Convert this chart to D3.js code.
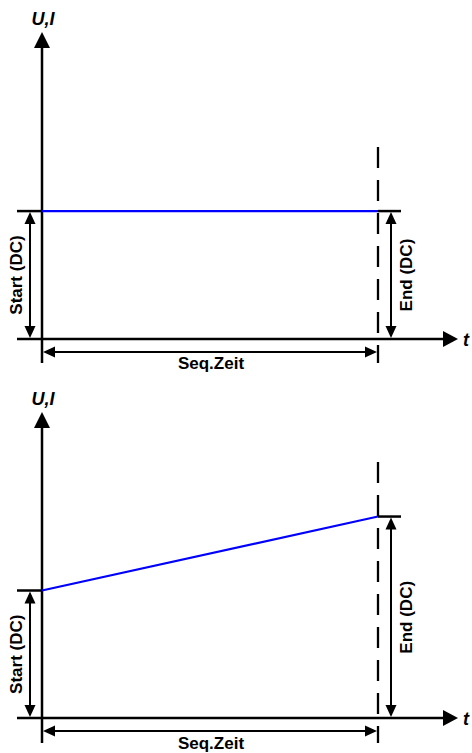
<!DOCTYPE html>
<html><head><meta charset="utf-8">
<script src="https://cdn.jsdelivr.net/npm/d3@7"></script>
<style>html,body{margin:0;padding:0;background:#fff}svg{display:block}text{font-family:"Liberation Sans",Arial,sans-serif}</style>
</head><body>
<script>
// Data
const panels = ["constant", "ramp"];
const startValues = [1.0, 1.0];
const endValues = [1.0, 1.58];
const timeDomain = [0, 1];
const yMax = 2.4;
const labels = {y: "U,I", x: "t", seq: "Seq.Zeit", start: "Start (DC)", end: "End (DC)"};

// Layout
const W = 472, H = 753;
const x0 = 42, x1 = 378;
const layout = [
  {base: 339, tip: 32, axisBottom: 363, dashTop: 147, seqY: 352, seqLabel: 369, yLabel: 25, tLabel: 346},
  {base: 718, tip: 412, axisBottom: 743, dashTop: 462, seqY: 731, seqLabel: 749, yLabel: 405, tLabel: 725}
];

const svg = d3.select("body").append("svg").attr("width", W).attr("height", H);
const x = d3.scaleLinear().domain(timeDomain).range([x0, x1]);

function head(g, tipX, tipY, dir, len, wid) {
  let pts;
  const h = wid / 2;
  if (dir === "up") pts = [[tipX, tipY], [tipX - h, tipY + len], [tipX + h, tipY + len]];
  if (dir === "down") pts = [[tipX, tipY], [tipX - h, tipY - len], [tipX + h, tipY - len]];
  if (dir === "left") pts = [[tipX, tipY], [tipX + len, tipY - h], [tipX + len, tipY + h]];
  if (dir === "right") pts = [[tipX, tipY], [tipX - len, tipY - h], [tipX - len, tipY + h]];
  g.append("path").attr("d", d3.line()(pts) + "Z").attr("fill", "#000");
}

function line(g, xa, ya, xb, yb, w, extra) {
  const l = g.append("line").attr("x1", xa).attr("y1", ya).attr("x2", xb).attr("y2", yb)
    .attr("stroke", "#000").attr("stroke-width", w);
  if (extra) l.attr("stroke-dasharray", extra);
  return l;
}

panels.forEach((p, i) => {
  const L = layout[i];
  const y = d3.scaleLinear().domain([0, yMax]).range([L.base, L.tip]);
  const g = svg.append("g");
  const ys = y(startValues[i]), ye = y(endValues[i]);

  line(g, x(1), L.dashTop, x(1), L.axisBottom, 2.3, "21,12");

  line(g, x(0), L.tip + 10, x(0), L.axisBottom, 2.5);
  head(g, x(0), L.tip, "up", 16, 16);
  g.append("text").attr("x", x(0) + 1).attr("y", L.yLabel).attr("text-anchor", "middle")
    .attr("font-size", 18).attr("font-weight", "bold").attr("font-style", "italic").text(labels.y);

  line(g, 17, L.base, 447, L.base, 2.5);
  head(g, 458, L.base, "right", 15, 16);
  g.append("text").attr("x", 463).attr("y", L.tLabel)
    .attr("font-size", 18).attr("font-weight", "bold").attr("font-style", "italic").text(labels.x);

  line(g, 17, ys, x(0), ys, 2.5);
  line(g, x(1), ye, 401, ye, 2.5);

  const sx = 30;
  line(g, sx, ys + 8, sx, L.base - 8, 2);
  head(g, sx, ys + 1, "up", 12, 11);
  head(g, sx, L.base - 1, "down", 12, 11);
  g.append("text").attr("transform", `translate(16,${(ys + L.base) / 2}) rotate(-90)`)
    .attr("text-anchor", "middle").attr("dominant-baseline", "central")
    .attr("font-size", 17).attr("font-weight", "bold").text(labels.start);

  const ex = 391;
  line(g, ex, ye + 8, ex, L.base - 8, 2);
  head(g, ex, ye + 1, "up", 12, 11);
  head(g, ex, L.base - 1, "down", 12, 11);
  g.append("text").attr("transform", `translate(406,${(ye + L.base) / 2}) rotate(-90)`)
    .attr("text-anchor", "middle").attr("dominant-baseline", "central")
    .attr("font-size", 17).attr("font-weight", "bold").text(labels.end);

  line(g, x(0) + 8, L.seqY, x(1) - 8, L.seqY, 2);
  head(g, x(0) + 1, L.seqY, "left", 12, 11);
  head(g, x(1) - 1, L.seqY, "right", 12, 11);
  g.append("text").attr("x", (x(0) + x(1)) / 2 + 1).attr("y", L.seqLabel).attr("text-anchor", "middle")
    .attr("font-size", 17).attr("font-weight", "bold").text(labels.seq);

  const sig = [[0, startValues[i]], [1, endValues[i]]];
  g.append("path").attr("d", d3.line().x(d => x(d[0])).y(d => y(d[1]))(sig))
    .attr("fill", "none").attr("stroke", "#0000ff").attr("stroke-width", 2.2);
});
</script>
</body></html>
